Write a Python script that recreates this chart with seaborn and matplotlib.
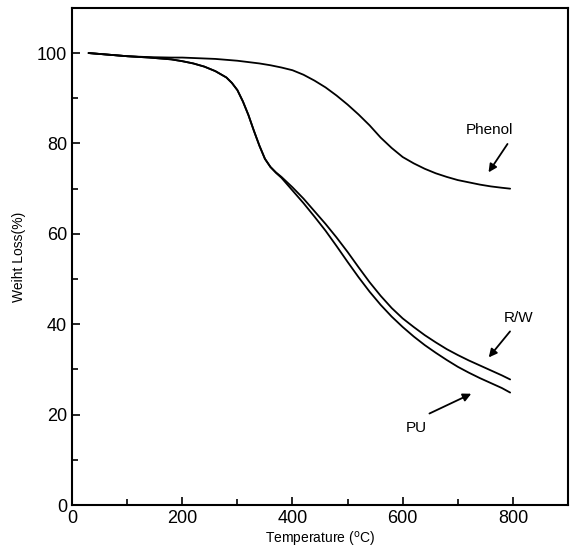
import pandas as pd
import matplotlib.pyplot as plt
import seaborn as sns
from matplotlib.ticker import MultipleLocator

# 読み取ったデータ
temperature = [30, 60, 100, 140, 180, 200, 220, 240, 260, 280, 290, 300, 310,
               320, 330, 340, 350, 360, 370, 380, 400, 420, 440, 460, 480, 500,
               520, 540, 560, 580, 600, 620, 640, 660, 680, 700, 720, 740, 760,
               780, 795]
phenol = [100, 99.7, 99.3, 99.1, 99.0, 99.0, 98.9, 98.8, 98.7, 98.5, 98.4, 98.3,
          98.15, 98.0, 97.85, 97.7, 97.5, 97.3, 97.05, 96.8, 96.2, 95.2, 93.9,
          92.4, 90.6, 88.6, 86.4, 84.0, 81.3, 79.0, 77.0, 75.6, 74.4, 73.4, 72.6,
          71.9, 71.4, 70.9, 70.5, 70.2, 70.0]
rw = [100, 99.7, 99.3, 99.0, 98.6, 98.2, 97.7, 97.0, 96.0, 94.6, 93.4, 91.8,
      89.3, 86.3, 82.8, 79.5, 76.6, 74.8, 73.6, 72.6, 70.3, 67.8, 65.0, 62.2,
      59.2, 56.0, 52.6, 49.3, 46.3, 43.6, 41.3, 39.4, 37.6, 36.0, 34.5, 33.2,
      32.0, 30.9, 29.8, 28.7, 27.8]
pu = [100, 99.7, 99.3, 99.0, 98.6, 98.2, 97.7, 97.0, 96.0, 94.6, 93.4, 91.8,
      89.3, 86.3, 82.8, 79.5, 76.6, 74.8, 73.5, 72.4, 69.6, 66.8, 63.8, 60.7,
      57.3, 53.8, 50.4, 47.2, 44.3, 41.7, 39.4, 37.3, 35.4, 33.7, 32.1, 30.6,
      29.3, 28.1, 27.0, 25.9, 24.9]

data = pd.DataFrame({"temperature": temperature * 3,
                     "weight": phenol + rw + pu,
                     "sample": ["Phenol"] * len(temperature) + ["R/W"] * len(temperature)
                               + ["PU"] * len(temperature)})

sns.set_style("ticks")
plt.rcParams["font.family"] = ["Liberation Sans", "DejaVu Sans"]
plt.rcParams["text.color"] = "black"
plt.rcParams["axes.labelcolor"] = "black"
plt.rcParams["xtick.color"] = "black"
plt.rcParams["ytick.color"] = "black"
plt.rcParams["axes.edgecolor"] = "black"

fig = plt.figure(figsize=(5.72, 5.6), dpi=100)
ax = fig.add_axes([0.126, 0.098, 0.867, 0.888])

sns.lineplot(data=data, x="temperature", y="weight", units="sample", estimator=None,
             color="black", linewidth=1.3, ax=ax, legend=False)

ax.set_xlim(0, 900)
ax.set_ylim(0, 110)
ax.xaxis.set_major_locator(MultipleLocator(200))
ax.xaxis.set_minor_locator(MultipleLocator(100))
ax.yaxis.set_major_locator(MultipleLocator(20))
ax.yaxis.set_minor_locator(MultipleLocator(10))
ax.tick_params(which="both", direction="in", labelsize=13, width=1.2)
ax.tick_params(which="major", length=6)
ax.tick_params(which="minor", length=4)
for s in ax.spines.values():
    s.set_linewidth(1.5)

ax.set_xlabel("Temperature ($^{\\mathrm{o}}$C)", fontsize=10, labelpad=2)
ax.set_ylabel("Weiht Loss(%)", fontsize=10, labelpad=8)

# 注釈
arrow = dict(arrowstyle="-|>", color="black", lw=1.3, mutation_scale=12)
ax.annotate("", xy=(753, 73.1), xytext=(793, 80.4), arrowprops=arrow)
ax.text(757, 83, "Phenol", fontsize=11, ha="center", va="center")
ax.annotate("", xy=(753, 32.2), xytext=(798, 38.9), arrowprops=arrow)
ax.text(811, 41.5, "R/W", fontsize=11, ha="center", va="center")
ax.annotate("", xy=(729, 24.9), xytext=(644, 20), arrowprops=arrow)
ax.text(624, 17, "PU", fontsize=11, ha="center", va="center")

plt.savefig("out.png", dpi=100)
